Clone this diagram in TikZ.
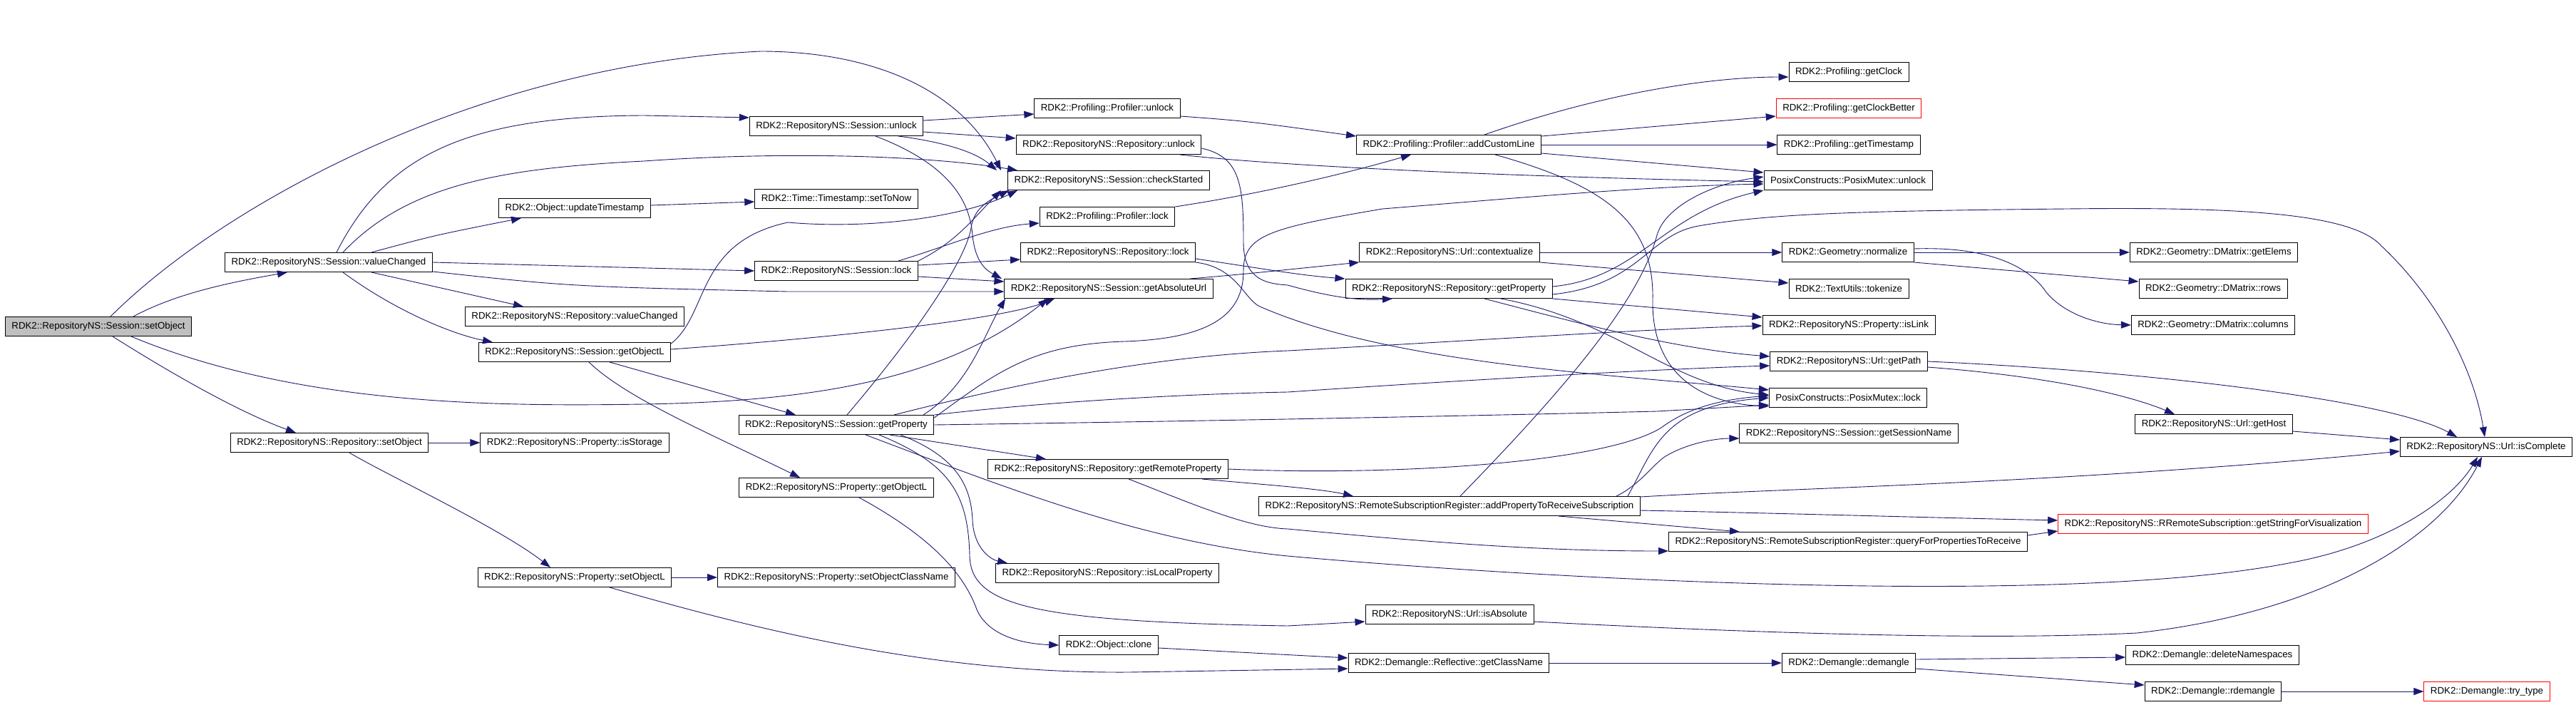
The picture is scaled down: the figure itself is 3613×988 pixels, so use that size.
\documentclass[tikz,border=0pt]{standalone}
\usepackage{fontspec}
\setmainfont{Liberation Sans}
\usetikzlibrary{positioning, arrows.meta, calc}
\definecolor{dox-navy}{HTML}{191970}
\definecolor{dox-red}{HTML}{FF0000}
\definecolor{dox-gray}{HTML}{BFBFBF}

\begin{document}
\begin{tikzpicture}[x=1pt, y=-1pt,
    fn/.style={draw, line width=1pt, minimum height=27pt, inner xsep=9pt, inner ysep=0pt,
               font=\fontsize{13.3}{16}\selectfont},
    gone/.style={fn, draw=dox-red},
    call/.style={-{Triangle[length=14pt, width=10pt]}, line width=0.9pt, dox-navy},
]
    \useasboundingbox (0,0) rectangle (3613,988);

    % callers, left to right
    \node[fn, fill=dox-gray] (s0) at (138,458) {RDK2::RepositoryNS::Session::setObject};
    \node[fn] (vc)  at (461,368) {RDK2::RepositoryNS::Session::valueChanged};
    \node[fn] (rso) at (462,621) {RDK2::RepositoryNS::Repository::setObject};
    \node[fn] (ut)  at (806,292) {RDK2::Object::updateTimestamp};
    \node[fn] (rvc) at (806,444) {RDK2::RepositoryNS::Repository::valueChanged};
    \node[fn] (gol) at (806,494) {RDK2::RepositoryNS::Session::getObjectL};
    \node[fn] (ist) at (806,621) {RDK2::RepositoryNS::Property::isStorage};
    \node[fn] (pso) at (806,810) {RDK2::RepositoryNS::Property::setObjectL};
    \node[fn] (su)  at (1173,177) {RDK2::RepositoryNS::Session::unlock};
    \node[fn] (sn)  at (1173,279) {RDK2::Time::Timestamp::setToNow};
    \node[fn] (sl)  at (1173,380) {RDK2::RepositoryNS::Session::lock};
    \node[fn] (gp)  at (1173,596) {RDK2::RepositoryNS::Session::getProperty};
    \node[fn] (pgo) at (1173,684) {RDK2::RepositoryNS::Property::getObjectL};
    \node[fn] (soc) at (1173,810) {RDK2::RepositoryNS::Property::setObjectClassName};
    \node[fn] (pu)  at (1553,152) {RDK2::Profiling::Profiler::unlock};
    \node[fn] (ru)  at (1555,203) {RDK2::RepositoryNS::Repository::unlock};
    \node[fn] (cs)  at (1555,253) {RDK2::RepositoryNS::Session::checkStarted};
    \node[fn] (pl)  at (1553,304) {RDK2::Profiling::Profiler::lock};
    \node[fn] (rl)  at (1554,354) {RDK2::RepositoryNS::Repository::lock};
    \node[fn] (gau) at (1555,405) {RDK2::RepositoryNS::Session::getAbsoluteUrl};
    \node[fn] (grp) at (1554,658) {RDK2::RepositoryNS::Repository::getRemoteProperty};
    \node[fn] (ilp) at (1553,804) {RDK2::RepositoryNS::Repository::isLocalProperty};
    \node[fn] (oc)  at (1555,905) {RDK2::Object::clone};
    \node[fn] (acl) at (2032,203) {RDK2::Profiling::Profiler::addCustomLine};
    \node[fn] (ctx) at (2033,354) {RDK2::RepositoryNS::Url::contextualize};
    \node[fn] (rgp) at (2032,405) {RDK2::RepositoryNS::Repository::getProperty};
    \node[fn] (aps) at (2033,710) {RDK2::RepositoryNS::RemoteSubscriptionRegister::addPropertyToReceiveSubscription};
    \node[fn] (ia)  at (2033,862) {RDK2::RepositoryNS::Url::isAbsolute};
    \node[fn] (gcn) at (2032,930) {RDK2::Demangle::Reflective::getClassName};
    \node[fn] (gc)  at (2593,101) {RDK2::Profiling::getClock};
    \node[gone] (gcb) at (2593,152) {RDK2::Profiling::getClockBetter};
    \node[fn] (gts) at (2593,203) {RDK2::Profiling::getTimestamp};
    \node[fn] (mu)  at (2592,253) {PosixConstructs::PosixMutex::unlock};
    \node[fn] (nrm) at (2592,354) {RDK2::Geometry::normalize};
    \node[fn] (tok) at (2593,405) {RDK2::TextUtils::tokenize};
    \node[fn] (isl) at (2593,456) {RDK2::RepositoryNS::Property::isLink};
    \node[fn] (gpt) at (2593,507) {RDK2::RepositoryNS::Url::getPath};
    \node[fn] (ml)  at (2592,558) {PosixConstructs::PosixMutex::lock};
    \node[fn] (gsn) at (2593,608) {RDK2::RepositoryNS::Session::getSessionName};
    \node[fn] (qfp) at (2592,760) {RDK2::RepositoryNS::RemoteSubscriptionRegister::queryForPropertiesToReceive};
    \node[fn] (dmg) at (2593,930) {RDK2::Demangle::demangle};
    \node[fn] (ge)  at (3105,354) {RDK2::Geometry::DMatrix::getElems};
    \node[fn] (rows) at (3104,405) {RDK2::Geometry::DMatrix::rows};
    \node[fn] (cols) at (3104,456) {RDK2::Geometry::DMatrix::columns};
    \node[fn] (gh)  at (3105,595) {RDK2::RepositoryNS::Url::getHost};
    \node[gone] (gsv) at (3104,735) {RDK2::RepositoryNS::RRemoteSubscription::getStringForVisualization};
    \node[fn] (dns) at (3103,919) {RDK2::Demangle::deleteNamespaces};
    \node[fn] (rdm) at (3104,970) {RDK2::Demangle::rdemangle};
    \node[fn] (ic)  at (3487,627) {RDK2::RepositoryNS::Url::isComplete};
    \node[gone] (tt) at (3488,970) {RDK2::Demangle::try\_type};

    % setObject
    \draw[call] ([xshift=49]s0.north) .. controls (250,410) and (330,395) .. ([xshift=-58]vc.south);
    \draw[call] ([xshift=20]s0.south) .. controls (250,530) and (340,580) .. ([xshift=-47]rso.north);
    \draw[call] ([xshift=17]s0.north) .. controls (320,280) and (680,90) .. (1067,72)
        .. controls (1230,72) and (1350,130) .. ([xshift=-151]cs.north);
    \draw[call] ([xshift=46]s0.south) .. controls (420,570) and (700,570) .. (903,567)
        .. controls (1150,563) and (1330,530) .. ([xshift=-85]gau.south);

    % Session::valueChanged
    \draw[call] ([xshift=11]vc.north) .. controls (540,220) and (650,163) .. (903,162) -- ([yshift=12]su.west);
    \draw[call] ([xshift=20]vc.north) .. controls (570,260) and (700,236) .. (903,226)
        .. controls (1100,212) and (1300,218) .. ([xshift=-128]cs.north);
    \draw[call] ([xshift=60]vc.north) .. controls (610,330) .. ([xshift=-75]ut.south);
    \draw[call] (vc.east) -- (sl.west);
    \draw[call] ([yshift=-13]vc.east) .. controls (800,402) .. (1105,409) -- ([yshift=-4]gau.west);
    \draw[call] ([xshift=60]vc.south) -- ([xshift=-72]rvc.north);
    \draw[call] ([xshift=20]vc.south) .. controls (560,440) and (640,470) .. ([xshift=-115]gol.north);

    \draw[call] ([yshift=4]ut.east) -- ([yshift=-4]sn.west);

    % Session::getObjectL
    \draw[call] ([yshift=4]gol.east) .. controls (1150,475) and (1400,450) .. ([xshift=-76]gau.south);
    \draw[call] ([yshift=12]gol.east) .. controls (995,440) and (975,340) .. (1105,312)
        .. controls (1220,322) and (1350,305) .. ([xshift=-128]cs.south);
    \draw[call] ([xshift=49]gol.south) -- ([xshift=-57]gp.north);
    \draw[call] ([xshift=20]gol.south) .. controls (880,560) and (1000,610) .. ([xshift=-51]pgo.north);

    % Repository::setObject, Property::setObjectL, getObjectL, clone
    \draw[call] (rso.east) -- (ist.west);
    \draw[call] ([xshift=28]rso.south) .. controls (540,665) and (700,740) .. ([xshift=-34]pso.north);
    \draw[call] (pso.east) -- (soc.west);
    \draw[call] ([xshift=49]pso.south) .. controls (1050,880) and (1300,945) .. (1583,943) -- ([yshift=-8]gcn.west);
    \draw[call] ([xshift=32]pgo.south) .. controls (1300,750) and (1350,800) .. (1370,855)
        .. controls (1385,890) and (1430,903) .. (oc.west);
    \draw[call] ([yshift=-4]oc.east) -- ([yshift=7]gcn.west);

    % Session::unlock / Session::lock
    \draw[call] ([yshift=8]su.east) -- ([yshift=-8]pu.west);
    \draw[call] ([yshift=-8]su.east) -- ([yshift=9]ru.west);
    \draw[call] ([xshift=87]su.south) .. controls (1330,200) and (1370,215) .. ([xshift=-157]cs.north);
    \draw[call] ([xshift=55]su.south) .. controls (1330,230) and (1360,280) .. (1364,330)
        .. controls (1368,370) and (1385,380) .. ([xshift=-150]gau.north);
    \draw[call] ([yshift=8]sl.east) -- ([yshift=-10]rl.west);
    \draw[call] ([yshift=-8]sl.east) -- ([yshift=10]gau.west);
    \draw[call] (sl.north east) .. controls (1340,340) and (1362,310) .. ([xshift=-151]cs.south);
    \draw[call] ([xshift=87]sl.north) .. controls (1330,345) and (1390,318) .. ([yshift=-9]pl.west);

    % Session::getProperty
    \draw[call] ([xshift=15]gp.north) .. controls (1300,450) and (1355,360) .. (1362,320)
        .. controls (1366,290) and (1390,280) .. ([xshift=-140]cs.south);
    \draw[call] ([xshift=122]gp.north) .. controls (1360,540) and (1380,470) .. ([xshift=-145]gau.south);
    \draw[call] ([xshift=81]gp.north) .. controls (1400,545) and (1600,500) .. (1806,492)
        .. controls (2100,476) and (2300,462) .. ([yshift=-1]isl.west);
    \draw[call] (gp.north east) .. controls (1500,560) and (1700,552) .. (1806,550)
        .. controls (2100,530) and (2350,517) .. ([yshift=-6]gpt.west);
    \draw[call] (gp.east) .. controls (1600,592) and (2000,585) .. (2324,577) -- ([yshift=-10]ml.west);
    \draw[call] ([yshift=10]gp.east) .. controls (1400,520) and (1450,483) .. (1577,479)
        .. controls (1700,475) and (1744,440) .. (1744,380)
        .. controls (1744,330) and (1780,320) .. (1939,293)
        .. controls (2150,276) and (2300,262) .. ([yshift=-5]mu.west);
    \draw[call] ([xshift=75]gp.south) -- ([xshift=-87]grp.north);
    \draw[call] ([xshift=90]gp.south) .. controls (1340,640) and (1362,680) .. (1364,730)
        .. controls (1366,770) and (1390,785) .. ([xshift=-140]ilp.north);
    \draw[call] ([xshift=60]gp.south) .. controls (1330,650) and (1358,690) .. (1360,780)
        .. controls (1362,850) and (1450,872) .. (1806,878) -- ([yshift=-10]ia.west);
    \draw[call] ([xshift=41]gp.south) .. controls (1400,680) and (1600,760) .. (1806,780)
        .. controls (2200,815) and (2900,850) .. (3210,790)
        .. controls (3350,765) and (3440,700) .. ([xshift=-12]ic.south);

    % Repository::getRemoteProperty
    \draw[call] ([xshift=132]grp.south) .. controls (1750,678) and (1850,685) .. ([xshift=-135]aps.north);
    \draw[call] ([xshift=29]grp.south) .. controls (1680,710) and (1750,740) .. (1806,742)
        .. controls (2000,760) and (2150,773) .. ([yshift=-13]qfp.west);
    \draw[call] (grp.east) .. controls (1950,668) and (2250,650) .. (2330,600)
        .. controls (2370,570) and (2420,560) .. ([yshift=3]ml.west);

    % RemoteSubscriptionRegister
    \draw[call] ([xshift=15]aps.north) .. controls (2200,540) and (2300,420) .. (2324,330)
        .. controls (2335,290) and (2400,258) .. ([yshift=5]mu.west);
    \draw[call] ([xshift=234]aps.north) .. controls (2300,680) and (2320,650) .. (2336,640)
        .. controls (2370,620) and (2410,615) .. ([yshift=-7]gsn.west);
    \draw[call] ([xshift=250]aps.north) .. controls (2320,630) and (2330,570) .. (ml.west);
    \draw[call] ([yshift=13]aps.east) .. controls (2500,685) and (2900,678) .. ([yshift=-6]ic.west);
    \draw[call] ([yshift=-6]aps.east) .. controls (2500,720) and (2700,726) .. ([yshift=5]gsv.west);
    \draw[call] ([xshift=153]aps.south) -- ([xshift=-152]qfp.north);
    \draw[call] ([yshift=9]qfp.east) -- ([yshift=-10]gsv.west);

    \draw[call] ([yshift=-10]ia.east) .. controls (2500,890) and (2800,898) .. (2997,888)
        .. controls (3250,860) and (3420,760) .. ([xshift=-6]ic.south);

    % Demangle
    \draw[call] (gcn.east) -- (dmg.west);
    \draw[call] ([yshift=5]dmg.east) -- ([yshift=-3]dns.west);
    \draw[call] ([yshift=-8]dmg.east) -- ([yshift=9]rdm.west);
    \draw[call] (rdm.east) -- (tt.west);

    % Url / Geometry
    \draw[call] ([xshift=114]gau.north) .. controls (1740,385) .. ([yshift=-14]ctx.west);
    \draw[call] (ctx.east) -- (nrm.west);
    \draw[call] (ctx.south east) -- ([yshift=8]tok.west);
    \draw[call] (nrm.east) -- (ge.west);
    \draw[call] (nrm.south east) -- ([yshift=10]rows.west);
    \draw[call] ([yshift=5]nrm.east) .. controls (2800,345) and (2850,380) .. (2870,410)
        .. controls (2895,440) and (2940,455) .. (cols.west);

    % Repository::getProperty / lock / unlock
    \draw[call] (rgp.south east) -- ([yshift=11]isl.west);
    \draw[call] ([xshift=50]rgp.south) .. controls (2200,450) and (2350,490) .. ([yshift=7]gpt.west);
    \draw[call] ([xshift=73]rgp.south) .. controls (2270,450) and (2340,540) .. ([yshift=4]ml.west);
    \draw[call] ([yshift=3]rgp.east) .. controls (2300,390) and (2330,300) .. (mu.south west);
    \draw[call] ([yshift=-8]rgp.east) .. controls (2300,400) and (2310,330) .. (2382,317)
        .. controls (2480,300) and (2600,296) .. (2899,293)
        .. controls (3150,290) and (3300,300) .. (3340,345)
        .. controls (3420,420) and (3470,520) .. ([xshift=-2]ic.north);
    \draw[call] ([yshift=-9]rl.east) .. controls (1760,375) and (1820,386) .. ([yshift=14]rgp.west);
    \draw[call] (rl.south east) .. controls (1735,375) and (1745,420) .. (1767,430)
        .. controls (1950,510) and (2250,525) .. ([yshift=11]ml.west);
    \draw[call] ([xshift=100]ru.south) .. controls (1750,228) and (2000,245) .. ([yshift=-2]mu.west);
    \draw[call] ([yshift=-5]ru.east) .. controls (1740,220) and (1744,260) .. (1744,340)
        .. controls (1744,395) and (1780,398) .. (1806,400)
        .. controls (1860,415) and (1900,422) .. ([xshift=-79]rgp.south);

    % Profiler
    \draw[call] ([yshift=-11]pu.east) .. controls (1750,170) .. ([yshift=12]acl.west);
    \draw[call] ([yshift=14]pl.east) .. controls (1780,270) and (1900,240) .. ([xshift=-53]acl.south);
    \draw[call] ([xshift=50]acl.north) .. controls (2250,130) and (2400,108) .. ([yshift=-7]gc.west);
    \draw[call] ([yshift=12]acl.east) -- ([yshift=-11]gcb.west);
    \draw[call] (acl.east) -- (gts.west);
    \draw[call] ([yshift=-12]acl.east) -- ([yshift=11]mu.west);
    \draw[call] ([xshift=65]acl.south) .. controls (2250,260) and (2320,310) .. (2318,420)
        .. controls (2316,520) and (2380,565) .. ([yshift=-12]ml.west);

    % Url::getPath / getHost
    \draw[call] ([yshift=-8]gpt.east) .. controls (2900,530) and (3000,560) .. ([xshift=-55]gh.north);
    \draw[call] (gpt.east) .. controls (3000,520) and (3350,560) .. ([xshift=-41]ic.north);
    \draw[call] ([yshift=-10]gh.east) -- ([yshift=10]ic.west);
\end{tikzpicture}
\end{document}
